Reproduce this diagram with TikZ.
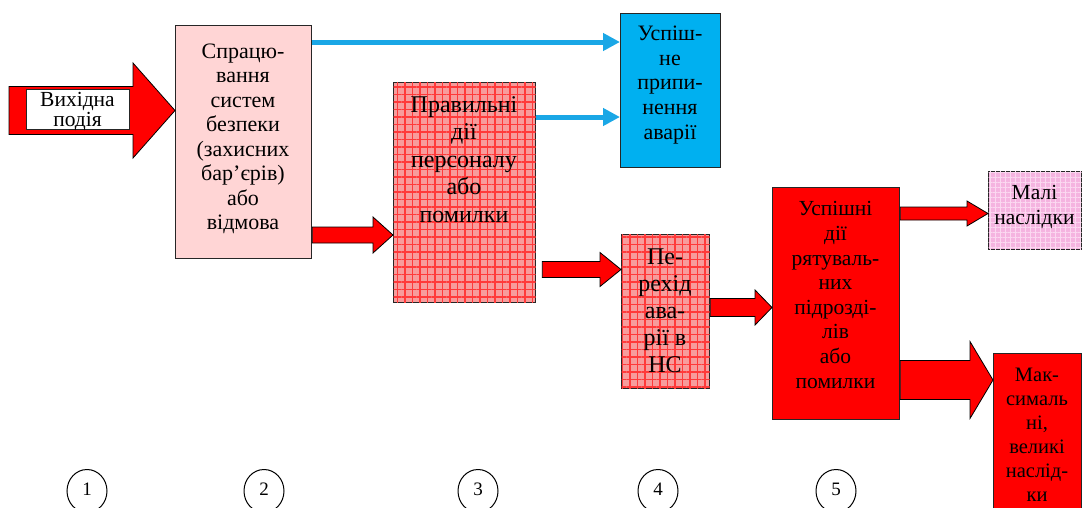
\documentclass[tikz,border=0pt]{standalone}
\usepackage{fontspec}
\setmainfont{Liberation Serif}
\usetikzlibrary{calc,patterns.meta,arrows.meta,shapes.geometric}
\definecolor{boxpink}{HTML}{FFD5D5}
\definecolor{hatchbg}{HTML}{F79C9C}
\definecolor{hatchline}{HTML}{FF3A3A}
\definecolor{skyblue}{HTML}{00B0F0}
\definecolor{arrowblue}{HTML}{1AA7E6}
\definecolor{lilac}{HTML}{F5B4E0}
\definecolor{lilacgrid}{HTML}{FBD8F0}
\newcommand{\blockarrow}[7]{%
  \draw[#1] let \p1=(#2), \p2=(#3), \p3=(0,#4) in
    (\x1,\y3+#5pt) -- (\x2-#7pt,\y3+#5pt) -- (\x2-#7pt,\y3+#6pt) -- (\x2,\y3)
    -- (\x2-#7pt,\y3-#6pt) -- (\x2-#7pt,\y3-#5pt) -- (\x1,\y3-#5pt) -- cycle;}
\begin{document}
\begin{tikzpicture}[x=1pt,y=-1pt,
  box/.style={draw=black!85,line width=1.3pt,inner sep=0pt,anchor=north west},
  hatched/.style={fill=hatchbg,postaction={pattern={Hatch[angle=0,distance=7.5pt,line width=1.3pt]},pattern color=hatchline}},
  lilachatch/.style={fill=lilac,postaction={pattern={Hatch[angle=0,distance=5pt,line width=0.8pt]},pattern color=lilacgrid}},
  txt/.style={inner sep=0pt,align=center,anchor=north},
  redarrow/.style={fill=red,draw=black,line width=0.8pt,line join=miter},
  bluearrow/.style={draw=arrowblue,line width=5pt,-{Triangle[length=17pt,width=17pt]}},
  numcirc/.style={ellipse,draw=black,line width=1pt,minimum width=40pt,minimum height=43pt,inner sep=0pt,font=\fontsize{19}{19}\selectfont}]
\useasboundingbox (0,0) rectangle (1082,507);

% boxes
\node[box,fill=boxpink,minimum width=136pt,minimum height=233pt] (b2) at (175,25) {};
\node[box,hatched,minimum width=142pt,minimum height=220pt] (b3) at (393,82) {};
\node[box,fill=skyblue,minimum width=100pt,minimum height=154pt] (b6) at (620,13) {};
\node[box,hatched,minimum width=88pt,minimum height=154pt] (b4) at (621,234) {};
\node[box,fill=red,minimum width=127pt,minimum height=232pt] (b5) at (772,187) {};
\node[box,lilachatch,minimum width=93pt,minimum height=78pt] (b7) at (988,171) {};
\node[box,fill=red,minimum width=88pt,minimum height=160pt] (b8) at (993,353) {};

% texts
\node[txt,font=\fontsize{22}{24.5}\selectfont] (t2) at (243,43.5) {Спрацю-\\вання\\систем\\безпеки\\(захисних\\бар’єрів)\\або\\відмова};
\node[txt,font=\fontsize{24}{27.5}\selectfont] (t3) at (464,96) {Правильні\\дії\\персоналу\\або\\помилки};
\node[txt,font=\fontsize{22}{24.6}\selectfont] (t6) at (670,26) {Успіш-\\не\\припи-\\нення\\аварії};
\node[txt,font=\fontsize{24}{27}\selectfont] (t4) at (665,249) {Пе-\\рехід\\ава-\\рії в\\НС};
\node[txt,font=\fontsize{21.5}{24.6}\selectfont] (t5) at (835.5,201.5) {Успішні\\дії\\рятуваль-\\них\\підрозді-\\лів\\або\\помилки};
\node[txt,font=\fontsize{21.5}{25}\selectfont] (t7) at (1034.5,185) {Малі\\наслідки};
\node[txt,font=\fontsize{20.5}{24}\selectfont] (t8) at (1037,368) {Мак-\\сималь\\ні,\\великі\\наслід-\\ки};

% input arrow
\coordinate (src) at (9,110.5);
\blockarrow{redarrow}{src}{b2.west}{110.5}{24}{47.5}{42}
\node[box,fill=white,minimum width=103pt,minimum height=40pt] (w) at (26,89) {};
\node[txt,font=\fontsize{21.5}{17}\selectfont] (t1) at (77.5,92.5) {Вихідна\\подія};

% red block arrows
\blockarrow{redarrow}{b2.east}{b3.west}{235}{8}{18}{20}
\blockarrow{redarrow}{$(b3.east)+(6,0)$}{b4.west}{269.5}{8}{17}{21}
\blockarrow{redarrow}{b4.east}{b5.west}{307.5}{9}{17.5}{17}
\blockarrow{redarrow}{b5.east}{b7.west}{213.5}{6.5}{12.5}{21}
\blockarrow{redarrow}{b5.east}{b8.west}{380}{19.5}{38.5}{23}

% blue arrows
\draw[bluearrow] let \p1=(b2.east), \p2=(b6.west) in (\x1,-42pt) -- (\x2,-42pt);
\draw[bluearrow] let \p1=(b3.east), \p2=(b6.west) in (\x1,-117pt) -- (\x2,-117pt);

% stage numbers
\node[numcirc] (n1) at (87,491) {\raisebox{4pt}{1}};
\node[numcirc] (n2) at (264,491) {\raisebox{4pt}{2}};
\node[numcirc] (n3) at (478,491) {\raisebox{4pt}{3}};
\node[numcirc] (n4) at (658,491) {\raisebox{4pt}{4}};
\node[numcirc] (n5) at (836,491) {\raisebox{4pt}{5}};
\end{tikzpicture}
\end{document}
